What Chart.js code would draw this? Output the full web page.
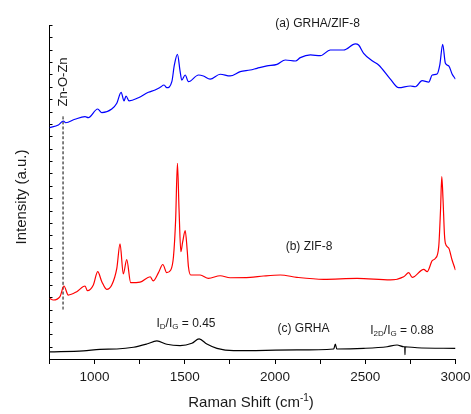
<!DOCTYPE html>
<html>
<head>
<meta charset="utf-8">
<script src="https://cdn.jsdelivr.net/npm/chart.js@4/dist/chart.umd.min.js"></script>
<style>
  html, body { margin:0; padding:0; background:#fff; }
  #wrap { width:471px; height:414px; }
</style>
</head>
<body>
<div id="wrap"><canvas id="ramanChart"></canvas></div>
<script>
// Raman spectra, intensities in arbitrary (offset) units
const grhaZifX = [750, 799, 827, 840, 891, 947, 965, 1017, 1040, 1095, 1123, 1147, 1163, 1174, 1191, 1243, 1298, 1335, 1363, 1385, 1400, 1428, 1442, 1459, 1474, 1483, 1502, 1520, 1576, 1603, 1640, 1696, 1751, 1807, 1862, 1900, 1955, 2011, 2057, 2113, 2140, 2196, 2251, 2306, 2380, 2445, 2463, 2491, 2538, 2574, 2639, 2685, 2750, 2778, 2815, 2852, 2871, 2898, 2913, 2929, 2944, 2963, 2981, 3000];
const grhaZifY = [18.70, 18.92, 19.24, 19.10, 19.38, 19.59, 19.51, 20.21, 19.91, 20.21, 20.67, 21.56, 20.86, 21.26, 20.86, 21.12, 21.56, 21.75, 21.96, 22.15, 21.93, 22.42, 23.77, 24.63, 23.23, 22.55, 22.96, 22.42, 22.96, 22.88, 22.63, 23.02, 22.88, 23.23, 23.36, 23.50, 23.69, 23.82, 24.17, 24.09, 24.36, 24.58, 24.52, 24.98, 24.98, 25.47, 25.38, 24.71, 24.11, 23.77, 22.63, 21.93, 22.07, 22.01, 22.50, 22.39, 22.96, 23.04, 23.77, 25.44, 23.90, 23.69, 23.04, 22.63];

const zifX = [750, 771, 808, 830, 854, 901, 947, 960, 993, 1017, 1040, 1067, 1095, 1123, 1141, 1159, 1178, 1200, 1252, 1308, 1324, 1354, 1378, 1400, 1422, 1437, 1449, 1459, 1468, 1478, 1488, 1502, 1513, 1520, 1533, 1585, 1631, 1696, 1751, 1862, 1936, 2029, 2121, 2269, 2454, 2639, 2713, 2741, 2760, 2824, 2843, 2871, 2889, 2907, 2917, 2924, 2931, 2939, 2944, 2963, 2981, 3000];
const zifY = [4.91, 4.77, 5.04, 5.90, 5.17, 5.44, 5.90, 5.52, 5.98, 7.06, 6.25, 5.63, 5.98, 7.33, 9.30, 6.87, 8.04, 6.17, 6.22, 6.65, 6.31, 6.98, 7.64, 6.98, 7.19, 8.27, 11.24, 15.82, 12.05, 8.67, 9.46, 10.37, 8.81, 7.46, 6.79, 6.79, 6.52, 6.73, 6.57, 6.60, 6.71, 6.79, 6.60, 6.44, 6.52, 6.39, 6.65, 6.98, 6.60, 7.25, 7.06, 7.95, 8.14, 9.08, 12.05, 14.74, 12.85, 10.02, 9.35, 8.95, 8.00, 7.19];

const grhaX = [750, 938, 1030, 1123, 1215, 1289, 1345, 1400, 1474, 1539, 1579, 1622, 1678, 1770, 2121, 2325, 2334, 2342, 2491, 2621, 2676, 2713, 2719, 2720, 2721, 2787, 3000];
const grhaY = [0.57, 0.65, 0.78, 0.81, 0.95, 1.21, 1.46, 1.19, 1.08, 1.27, 1.62, 1.21, 0.86, 0.67, 0.73, 0.81, 1.21, 0.81, 0.86, 0.99, 1.13, 0.99, 0.99, 0.35, 0.99, 0.91, 0.86];

// Zn-O-Zn marker
const markX = [825, 825];
const markY = [4.0, 19.7];

const xTickStep = 250;
const xLabelStep = 500;

const FONT = "'Liberation Sans', Arial, sans-serif";
const TXT = '#1a1a1a';

function pts(xs, ys) { return xs.map((v, i) => ({x: v, y: ys[i]})); }

// draws a run of [text, size, dy] pieces centred on cx
function richText(ctx, parts, cx, cy) {
  let w = 0;
  parts.forEach(p => { ctx.font = p[1] + 'px ' + FONT; w += ctx.measureText(p[0]).width; });
  let xx = cx - w / 2;
  parts.forEach(p => {
    ctx.font = p[1] + 'px ' + FONT;
    ctx.fillText(p[0], xx, cy + p[2]);
    xx += ctx.measureText(p[0]).width;
  });
}

const decor = {
  id: 'decor',
  afterDraw(chart) {
    const {ctx, scales: {x, y}} = chart;
    ctx.save();
    ctx.strokeStyle = '#000';
    ctx.lineWidth = 1;
    // inward minor ticks on the intensity axis
    y.ticks.forEach(t => {
      const py = Math.round(y.getPixelForValue(t.value)) + 0.5;
      ctx.beginPath();
      ctx.moveTo(x.left, py);
      ctx.lineTo(x.left + 3, py);
      ctx.stroke();
    });

    ctx.fillStyle = TXT;
    ctx.textBaseline = 'middle';
    ctx.textAlign = 'left';
    richText(ctx, [['(a) GRHA/ZIF-8', 12, 0]], 317.5, 23.5);
    richText(ctx, [['(b) ZIF-8', 12, 0]], 309, 246.5);
    richText(ctx, [['(c) GRHA', 12, 0]], 303.5, 328.5);
    richText(ctx, [['I', 12, 0], ['D', 8, 3], ['/I', 12, 0], ['G', 8, 3], [' = 0.45', 12, 0]], 186, 324);
    richText(ctx, [['I', 12, 0], ['2D', 8, 3], ['/I', 12, 0], ['G', 8, 3], [' = 0.88', 12, 0]], 402, 330.5);
    richText(ctx, [['Raman Shift (cm', 15, 0], ['-1', 10, -5], [')', 15, 0]], 251, 403);

    ctx.save();
    ctx.translate(22, 197);
    ctx.rotate(-Math.PI / 2);
    richText(ctx, [['Intensity (a.u.)', 15, 0]], 0, 0);
    ctx.restore();

    ctx.save();
    ctx.translate(63.5, 82);
    ctx.rotate(-Math.PI / 2);
    richText(ctx, [['Zn-O-Zn', 13, 0]], 0, 0);
    ctx.restore();

    ctx.restore();
  }
};

const lineSet = (data, color) => ({
  data: data, borderColor: color, borderWidth: 1.2,
  pointRadius: 0, fill: false, cubicInterpolationMode: 'monotone'
});

new Chart(document.getElementById('ramanChart'), {
  type: 'line',
  data: {
    datasets: [
      lineSet(pts(grhaZifX, grhaZifY), '#0000ff'),
      lineSet(pts(zifX, zifY), '#ff0000'),
      lineSet(pts(grhaX, grhaY), '#000000'),
      Object.assign(lineSet(pts(markX, markY), '#000000'), {borderWidth: 1, borderDash: [3, 2]})
    ]
  },
  options: {
    responsive: true,
    maintainAspectRatio: false,
    animation: false,
    layout: { padding: {top: 25, right: 15.5, left: 0, bottom: 0} },
    plugins: { legend: {display: false}, tooltip: {enabled: false} },
    scales: {
      x: {
        type: 'linear', min: 750, max: 3000,
        afterFit: s => { s.height = 55; s.paddingLeft = 0; s.paddingRight = 0; },
        grid: { display: true, drawOnChartArea: false, drawTicks: true, tickLength: 5, color: '#000' },
        border: { display: true, color: '#000', width: 1 },
        ticks: {
          stepSize: xTickStep, autoSkip: false, maxRotation: 0, padding: 5,
          color: TXT, font: {family: FONT, size: 13.5},
          callback: v => (v % xLabelStep === 0 ? String(v) : '')
        }
      },
      y: {
        min: 0, max: 27,
        afterFit: s => { s.width = 49.5; },
        grid: { display: false, drawTicks: false },
        border: { display: true, color: '#000', width: 1 },
        ticks: { stepSize: 1, display: false }
      }
    }
  },
  plugins: [decor]
});
</script>
</body>
</html>
